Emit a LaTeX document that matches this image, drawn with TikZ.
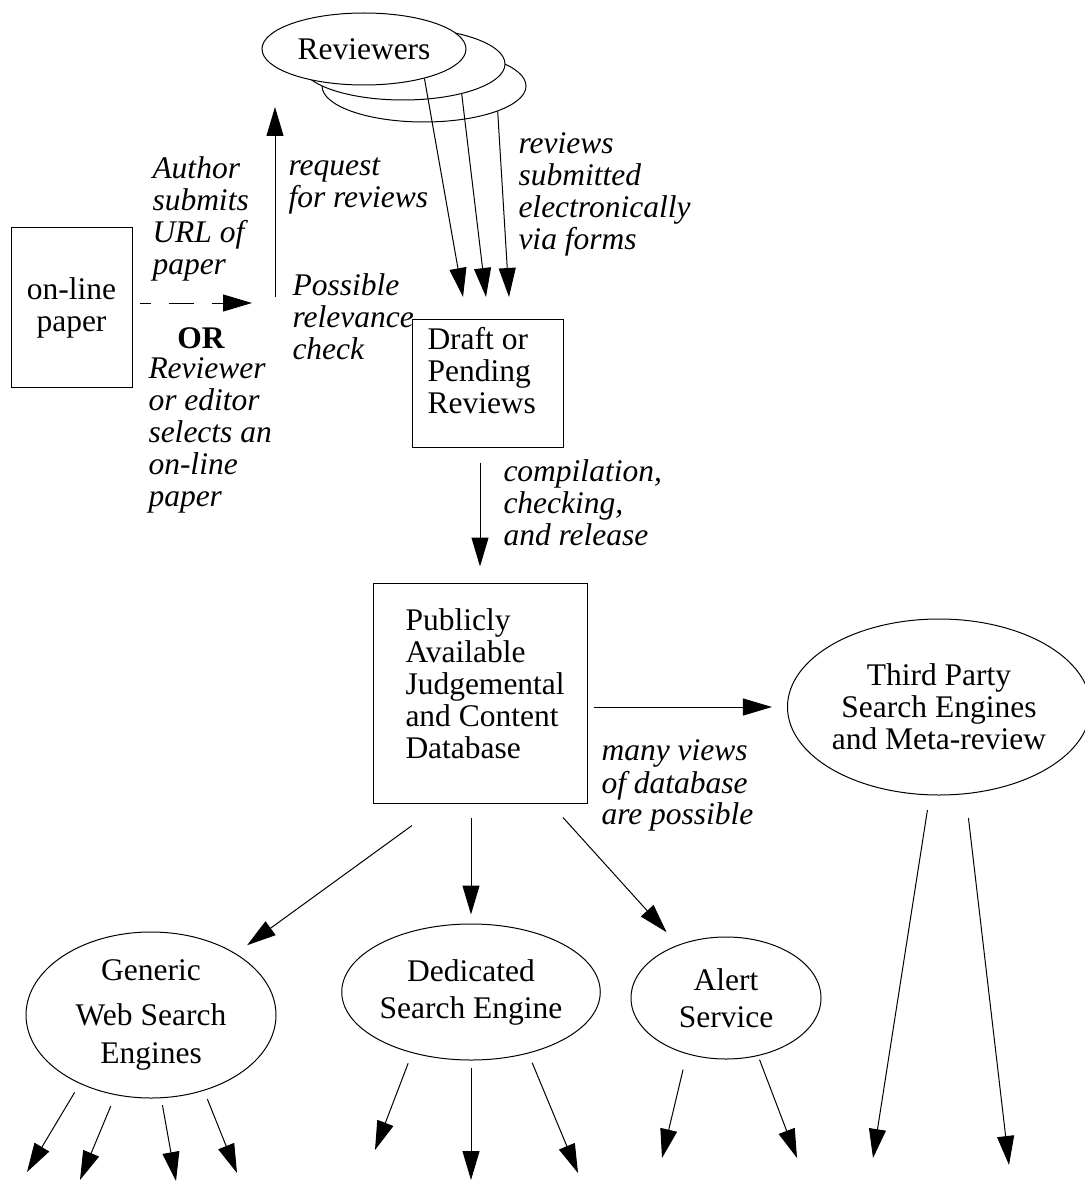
\documentclass[tikz,border=0pt]{standalone}
\usepackage{fontspec}
\setmainfont{Liberation Serif}
\usetikzlibrary{arrows.meta,shapes.geometric}

\tikzset{
  box/.style={draw, rectangle, inner sep=0pt},
  oval/.style={draw, ellipse, inner sep=0pt, align=center, fill=white},
  txt/.style={anchor=north west, inner sep=0pt, align=left},
  note/.style={txt, font=\fontsize{15.75}{16}\selectfont\itshape},
  arr/.style={-{Triangle[length=14.5pt,width=8.5pt]}},
}

\begin{document}
\begin{tikzpicture}[x=0.5pt, y=-0.5pt, line width=0.5pt, font=\fontsize{15.75}{16}\selectfont]
    \useasboundingbox (0,0) rectangle (1084,1182);

    % reviewers (a stack of three)
    \node[oval, minimum width=102pt, minimum height=36pt] (rev3) at (424,86) {};
    \node[oval, minimum width=102pt, minimum height=36pt] (rev2) at (403,64) {};
    \node[oval, minimum width=102pt, minimum height=36pt] (rev1) at (364,49) {Reviewers};

    % the paper
    \node[box, minimum width=60.5pt, minimum height=79.5pt, align=center] (paper) at (71.5,307.5) {on-line\\paper};

    % pending reviews
    \node[box, minimum width=75.5pt, minimum height=64pt] (draft) at (487.5,383) {};
    \node[txt] (draft-txt) at (427,326.6) {\strut Draft or\\Pending\\Reviews};

    % public database
    \node[box, minimum width=107pt, minimum height=110pt] (db) at (480,693) {};
    \node[txt] (db-txt) at (405,607.6) {\strut Publicly\\Available\\Judgemental\\and Content\\Database};

    % views of the database
    \node[oval, minimum width=144pt, minimum height=88pt] (tp) at (939,707) {Third Party\\Search Engines\\and Meta-review};
    \node[oval, minimum width=125pt, minimum height=83pt] (gen) at (151,1015) {Generic\\[6.5pt]Web Search\\[3pt]Engines};
    \node[oval, minimum width=124.5pt, minimum height=68pt] (ded) at (471,992) {Dedicated\\[2.5pt]Search Engine};
    \node[oval, minimum width=95pt, minimum height=61pt] (alert) at (726,998) {Alert\\[2.5pt]Service};

    % labels
    \node[note] (author) at (152,155.6) {\strut Author\\submits\\URL of\\paper};
    \node[note] (request) at (288,152.6) {\strut request\\for reviews};
    \node[note] (check) at (292,272.6) {\strut Possible\\relevance\\check};
    \node[anchor=base, inner sep=0pt, font=\fontsize{15.75}{16}\selectfont\bfseries] (or) at (201,348) {OR};
    \node[note] (selects) at (148,355.6) {\strut Reviewer\\or editor\\selects an\\on-line\\paper};
    \node[note] (submitted) at (518,130.6) {\strut reviews\\submitted\\electronically\\via forms};
    \node[note] (release) at (503,458.6) {\strut compilation,\\checking,\\and release};
    \node[note, font=\fontsize{15.75}{15.5}\selectfont\itshape] (views) at (601,738.3) {\strut many views\\of database\\are possible};

    % submission of the paper
    \coordinate (sub-to) at (252,303);
    \draw[arr, dash pattern=on 12.5pt off 9pt, dash phase=7pt, shorten <=3.5pt] (paper.east |- sub-to) -- (sub-to);

    % request for reviews
    \coordinate (req-from) at (275,297);
    \coordinate (req-to) at (275,107);
    \draw[arr] (req-from) -- (req-to);

    % reviews submitted
    \coordinate (tip1) at (463,297);
    \coordinate (tip2) at (486,297);
    \coordinate (tip3) at (509,297);
    \draw[arr] (rev1.-26) -- (tip1);
    \draw[arr] (rev2.-27) -- (tip2);
    \draw[arr] (rev3.-19) -- (tip3);

    % compilation and release
    \draw[arr, shorten <=7.5pt, shorten >=8pt] (db.north |- draft.south) -- (db.north);

    % database to the views
    \coordinate (db-out-l) at ([xshift=-34pt,yshift=-11pt]db.south);
    \coordinate (db-out-r) at ([xshift=41.5pt,yshift=-7pt]db.south);
    \draw[arr, shorten >=7pt] (db-out-l) -- (gen);
    \draw[arr, shorten <=7pt, shorten >=4.5pt] (ded.north |- db.south) -- (ded.north);
    \draw[arr, shorten >=8.5pt] (db-out-r) -- (alert);
    \draw[arr, shorten <=3pt, shorten >=7.5pt] (db.east |- tp.west) -- (tp.west);

    % outgoing links
    \foreach \a/\x/\y/\s [count=\i] in {-136.5/27/1172/5pt, -114.5/80/1180/6pt, -83/176/1181/3.5pt, -55.5/237/1173/4.5pt}
      {\coordinate (gen-out\i) at (\x,\y); \draw[arr, shorten <=\s] (gen.\a) -- (gen-out\i);}
    \foreach \a/\x/\y/\s [count=\i] in {-134.6/375/1150/5.5pt, -90/471/1180/3.5pt, -47.6/578/1173/5pt}
      {\coordinate (ded-out\i) at (\x,\y); \draw[arr, shorten <=\s] (ded.\a) -- (ded-out\i);}
    \foreach \a/\x/\y/\s [count=\i] in {-125.4/662/1158/8pt, -61.6/797/1158/2pt}
      {\coordinate (alert-out\i) at (\x,\y); \draw[arr, shorten <=\s] (alert.\a) -- (alert-out\i);}
    \foreach \a/\x/\y/\s [count=\i] in {-96.6/873/1158/7.5pt, -73.3/1009/1165/12pt}
      {\coordinate (tp-out\i) at (\x,\y); \draw[arr, shorten <=\s] (tp.\a) -- (tp-out\i);}

\end{tikzpicture}
\end{document}
